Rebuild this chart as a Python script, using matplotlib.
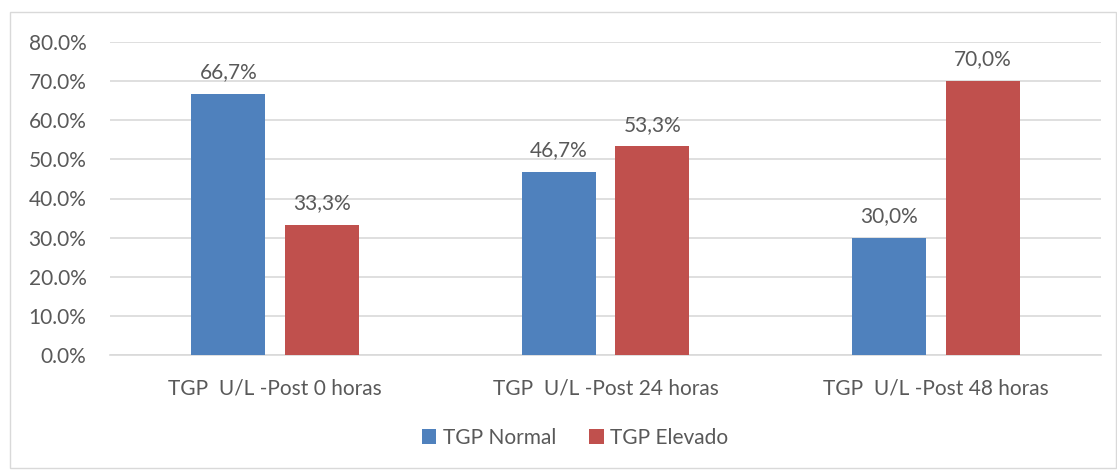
import matplotlib.pyplot as plt
from matplotlib.patches import Rectangle
import numpy as np

categorias = ['TGP  U/L -Post 0 horas', 'TGP  U/L -Post 24 horas', 'TGP  U/L -Post 48 horas']
normal = [66.7, 46.7, 30.0]
elevado = [33.3, 53.3, 70.0]
series = ['TGP Normal', 'TGP Elevado']
colores = ['#4F81BD', '#C0504D']
texto = '#595959'

plt.rcParams['font.family'] = ['Lato', 'DejaVu Sans']
fs = 15

fig = plt.figure(figsize=(11.17, 4.70), dpi=100)
fig.patches.append(Rectangle((10 / 1117, 2 / 470), 1106 / 1117, 456 / 470,
                             transform=fig.transFigure, fill=False,
                             edgecolor='#D9D9D9', linewidth=1))
ax = fig.add_axes([110 / 1117, 1 - 355 / 470, 991 / 1117, 313 / 470])

x = np.arange(len(categorias))
ancho = 0.224
off = 0.142
b1 = ax.bar(x - off, normal, ancho, color=colores[0], label=series[0], zorder=3)
b2 = ax.bar(x + off, elevado, ancho, color=colores[1], label=series[1], zorder=3)

for barras, vals in [(b1, normal), (b2, elevado)]:
    for b, v in zip(barras, vals):
        ax.text(b.get_x() + b.get_width() / 2, v + 3.0, f'{v:.1f}%'.replace('.', ','),
                ha='center', va='bottom', fontsize=fs, color=texto)

ax.set_xlim(-0.5, 2.5)
ax.set_ylim(0, 80)
ax.set_yticks(np.arange(0, 81, 10))
ax.set_yticklabels([f'{v:.1f}%' for v in np.arange(0, 81, 10)])
ax.set_xticks(x)
ax.set_xticklabels(categorias)
ax.tick_params(axis='both', length=0, labelsize=fs, colors=texto)
ax.tick_params(axis='x', pad=17)
ax.tick_params(axis='y', pad=17)
ax.yaxis.grid(True, color='#D9D9D9', linewidth=1.2, zorder=0)
for s in ['top', 'right', 'left']:
    ax.spines[s].set_visible(False)
ax.spines['bottom'].set_color('#D9D9D9')
ax.spines['bottom'].set_linewidth(1.2)

fig.legend(loc='center', bbox_to_anchor=(575 / 1117, 1 - 438 / 470), ncol=2,
           frameon=False, fontsize=fs, labelcolor=texto, handlelength=0.7,
           handleheight=0.7, handletextpad=0.3, columnspacing=1.6)

fig.savefig('out.png', dpi=100)
